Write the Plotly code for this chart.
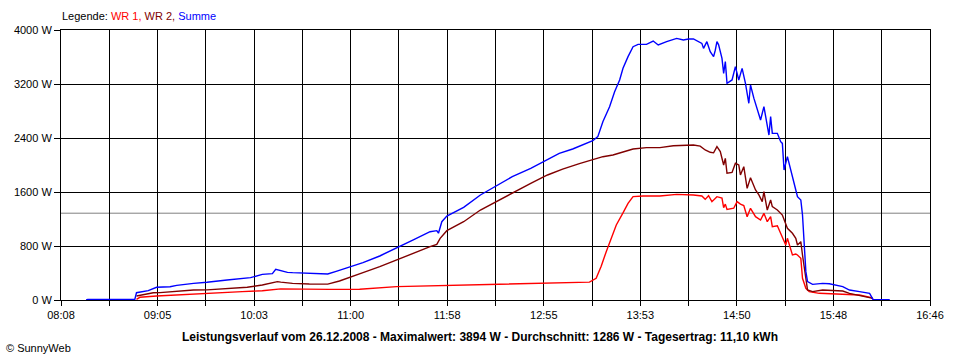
import plotly.graph_objects as go

# ---------------- data ----------------
summe_t = ["08:23","08:24","08:52","08:53","09:00","09:05","09:13","09:17","09:27","09:35","09:47",
           "10:01","10:08","10:14","10:16","10:20","10:23","10:26","10:38","10:47","10:52","11:00",
           "11:08","11:18","11:28","11:38","11:48","11:52","11:53","11:55","11:58","12:08","12:18",
           "12:28","12:37","12:48","12:58","13:05","13:13","13:22","13:25","13:28","13:31","13:35",
           "13:38","13:41","13:43","13:46","13:49","13:52","13:57","14:01","14:04","14:09","14:15",
           "14:19","14:22","14:25","14:27","14:30","14:31","14:33","14:35","14:37","14:38","14:39",
           "14:40","14:42","14:43","14:44","14:45","14:47","14:48","14:50","14:52","14:54","14:56",
           "14:58","14:59","15:01","15:03","15:05","15:07","15:09","15:10","15:11","15:12","15:15",
           "15:17","15:18","15:19","15:21","15:24","15:26","15:27","15:29","15:30","15:31","15:32",
           "15:33","15:36","15:42","15:46","15:54","15:58","16:04","16:10","16:12","16:22"]
summe_w = [0,10,10,108,138,188,197,217,247,262,296,
           331,380,390,454,430,410,405,395,385,425,494,
           553,652,765,889,1012,1027,990,1160,1244,1373,1556,
           1704,1827,1951,2084,2173,2237,2336,2360,2420,2642,2864,
           3086,3259,3432,3605,3753,3787,3787,3837,3778,3827,3876,
           3852,3867,3867,3837,3802,3728,3827,3679,3605,3700,3827,
           3780,3580,3358,3531,3210,3250,3260,3457,3259,3432,3210,
           2914,3185,2990,2815,2667,2864,2593,2444,2716,2469,2469,
           2346,2320,1926,2123,1802,1630,1531,1481,1259,815,420,
           272,232,247,240,198,148,124,99,10,5]

wr2_t = ["08:53","09:03","09:07","09:19","09:27","09:35","09:47","09:59","10:08","10:17","10:19",
         "10:26","10:36","10:47","10:54","11:00","11:08","11:18","11:28","11:38","11:48","11:52",
         "11:54","11:58","12:08","12:18","12:28","12:37","12:48","12:58","13:07","13:17","13:25",
         "13:31","13:37","13:43","13:49","13:57","14:05","14:13","14:19","14:25","14:29","14:32",
         "14:35","14:37","14:39","14:41","14:43","14:44","14:45","14:48","14:50","14:52","14:53",
         "14:55","14:57","14:59","15:02","15:04","15:06","15:07","15:09","15:11","15:12","15:15",
         "15:18","15:20","15:21","15:24","15:26","15:27","15:29","15:30","15:32","15:33","15:36",
         "15:42","15:48","15:54","15:58","16:04","16:12"]
wr2_w = [60,108,110,138,148,150,168,188,222,272,265,
         247,237,235,281,331,405,494,593,701,790,825,
         914,1027,1160,1333,1467,1590,1728,1852,1940,2020,2080,
         2123,2148,2195,2237,2257,2257,2286,2296,2296,2280,2222,
         2188,2180,2272,2198,2000,2099,1877,1890,2025,2000,1852,
         1975,1654,1812,1630,1556,1457,1605,1333,1481,1383,1333,
         1259,1136,1062,988,914,815,864,667,321,148,124,
         148,140,133,99,64,25]

wr1_t = ["08:53","08:55","09:05","09:19","09:33","09:43","09:56","10:08","10:19","10:48","11:06",
         "11:28","12:08","12:48","13:05","13:23","13:27","13:30","13:33","13:36","13:39","13:43",
         "13:46","13:49","13:55","14:05","14:15","14:25","14:30","14:32","14:34","14:36","14:39",
         "14:42","14:43","14:44","14:45","14:49","14:51","14:53","14:55","14:57","14:59","15:02",
         "15:05","15:07","15:09","15:11","15:12","15:15","15:17","15:18","15:20","15:21","15:24",
         "15:26","15:27","15:29","15:30","15:32","15:34","15:40","15:54","16:04","16:11","16:12"]
wr1_w = [10,40,59,74,89,108,124,138,165,158,160,
         198,222,247,257,265,321,500,716,914,1111,1290,
         1432,1531,1541,1541,1565,1555,1541,1491,1545,1457,1531,
         1510,1368,1420,1343,1360,1457,1420,1400,1234,1358,1234,
         1185,1284,1160,1234,1086,1100,988,914,815,914,667,
         680,667,617,321,173,124,99,89,74,35,10]

durchschnitt_w = 1286

y_ticks = [0, 800, 1600, 2400, 3200, 4000]
y_labels = ["0 W", "800 W", "1600 W", "2400 W", "3200 W", "4000 W"]
x_labels = ["08:08", "09:05", "10:03", "11:00", "11:58", "12:55", "13:53", "14:50", "15:48", "16:46"]

series_names = ["WR 1", "WR 2", "Summe"]
series_colors = ["#ff0000", "#800000", "#0000ff"]

title_text = ("Leistungsverlauf vom 26.12.2008 - Maximalwert: 3894 W - "
              "Durchschnitt: 1286 W - Tagesertrag: 11,10 kWh")
# ----------------------------------------------------------------


def to_min(s):
    h, m = s.split(":")
    return int(h) * 60 + int(m)


x_start = to_min(x_labels[0])
x_end = to_min(x_labels[-1])
n_int = 18
step = (x_end - x_start) / n_int
tickvals = [x_start + k * step for k in range(n_int + 1)]
ticktext = [x_labels[k // 2] if k % 2 == 0 else "" for k in range(n_int + 1)]

FONT = "Liberation Sans, Arial, sans-serif"

fig = go.Figure()
for name, col, tt, ww in [
    (series_names[0], series_colors[0], wr1_t, wr1_w),
    (series_names[1], series_colors[1], wr2_t, wr2_w),
    (series_names[2], series_colors[2], summe_t, summe_w),
]:
    fig.add_trace(go.Scatter(x=[to_min(t) for t in tt], y=ww, mode="lines", name=name,
                             line=dict(color=col, width=1.4), showlegend=False))

fig.add_shape(type="line", xref="paper", yref="y", x0=0, x1=1,
              y0=durchschnitt_w, y1=durchschnitt_w,
              line=dict(color="#808080", width=1), layer="below")

fig.update_layout(
    width=960, height=360,
    margin=dict(l=61, r=30, t=30, b=60),
    paper_bgcolor="white", plot_bgcolor="white",
    font=dict(family=FONT, size=11, color="black"),
    xaxis=dict(range=[x_start, x_end], tickmode="array", tickvals=tickvals, ticktext=ticktext,
               showgrid=True, gridcolor="black", gridwidth=1, zeroline=False,
               showline=True, linecolor="black", linewidth=1, mirror=True,
               ticks="outside", ticklen=5, tickcolor="black", tickwidth=1,
               tickfont=dict(family=FONT, size=11, color="black")),
    yaxis=dict(range=[0, 4000], tickmode="array", tickvals=y_ticks, ticktext=y_labels,
               showgrid=True, gridcolor="black", gridwidth=1, zeroline=False,
               showline=True, linecolor="black", linewidth=1, mirror=True,
               ticks="outside", ticklen=6, tickcolor="black", tickwidth=1,
               tickfont=dict(family=FONT, size=11, color="black")),
)

legend_html = ("Legende: "
               + f"<span style='color:{series_colors[0]}'>{series_names[0]},</span> "
               + f"<span style='color:{series_colors[1]}'>{series_names[1]},</span> "
               + f"<span style='color:{series_colors[2]}'>{series_names[2]}</span>")
fig.add_annotation(xref="paper", yref="paper", x=-0.001, y=1 + 14 / 270,
                   xanchor="left", yanchor="middle", showarrow=False,
                   text=legend_html, font=dict(family=FONT, size=11, color="black"))

fig.add_annotation(xref="paper", yref="paper", x=(480 - 61) / 869, y=-37 / 270,
                   xanchor="center", yanchor="middle", showarrow=False,
                   text=f"<b>{title_text}</b>", font=dict(family=FONT, size=12, color="black"))

fig.add_annotation(xref="paper", yref="paper", x=(4 - 61) / 869, y=-48 / 270,
                   xanchor="left", yanchor="middle", showarrow=False,
                   text="© SunnyWeb", font=dict(family=FONT, size=11, color="black"))

fig.write_html("out.html", config={"displayModeBar": False},
               post_script="document.body.style.margin='0';document.body.style.overflow='hidden';")
